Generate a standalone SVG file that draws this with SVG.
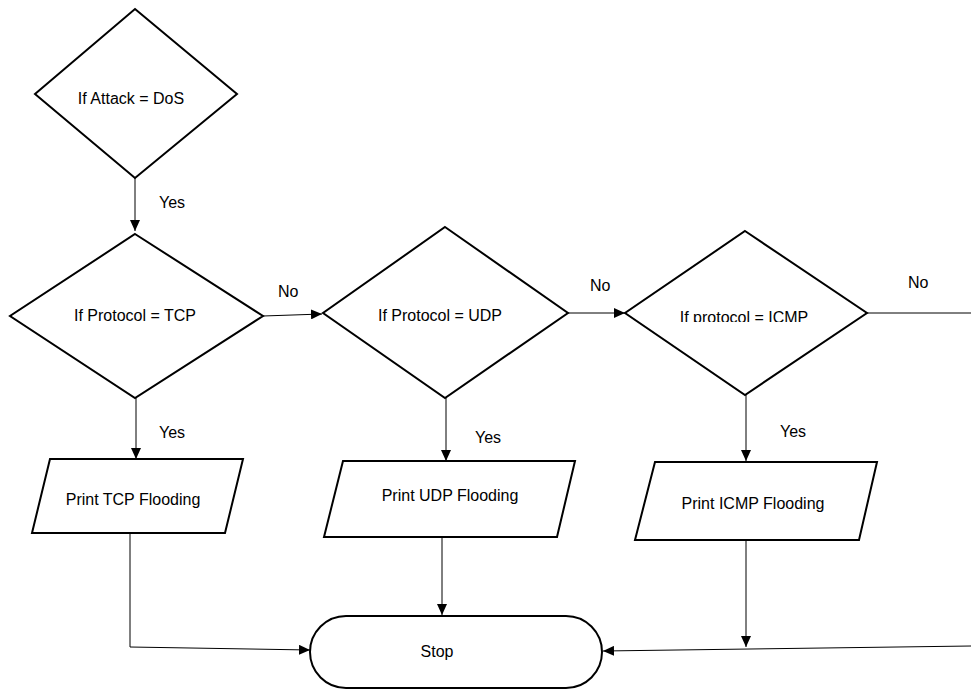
<svg xmlns="http://www.w3.org/2000/svg" width="971" height="690" viewBox="0 0 971 690">
  <defs>
    <style>
      .shape { fill: #ffffff; stroke: #000000; stroke-width: 2; stroke-linejoin: miter; }
      .link { fill: none; stroke: #000000; stroke-width: 1; }
      .label { font-family: "Liberation Sans", Arial, sans-serif; font-size: 16px; fill: #000000; }
      .mid { text-anchor: middle; }
    </style>
    <marker id="arrow" markerUnits="userSpaceOnUse" markerWidth="12" markerHeight="10" refX="11" refY="5" orient="auto">
      <path d="M0,0 L11,5 L0,10 Z" fill="#000000"/>
    </marker>
    <clipPath id="icmpClip">
      <rect x="640" y="290" width="200" height="32"/>
    </clipPath>
  </defs>

  <rect width="971" height="690" fill="#ffffff"/>

  <!-- connectors -->
  <g id="connectors">
    <path class="link" d="M135,178 L135,231" marker-end="url(#arrow)"/>
    <path class="link" d="M263,316 L322,314" marker-end="url(#arrow)"/>
    <path class="link" d="M568,313 L625,313" marker-end="url(#arrow)"/>
    <path class="link" d="M867,313 L971,313"/>
    <path class="link" d="M136,398 L136,459" marker-end="url(#arrow)"/>
    <path class="link" d="M446,398 L446,461" marker-end="url(#arrow)"/>
    <path class="link" d="M746,395 L746,461" marker-end="url(#arrow)"/>
    <path class="link" d="M130,533 L130,647 L310,650" marker-end="url(#arrow)"/>
    <path class="link" d="M442,537 L442,615" marker-end="url(#arrow)"/>
    <path class="link" d="M746,540 L746,647" marker-end="url(#arrow)"/>
    <path class="link" d="M971,646 L603,651" marker-end="url(#arrow)"/>

    <text class="label" x="159" y="208">Yes</text>
    <text class="label" x="278" y="297">No</text>
    <text class="label" x="590" y="291">No</text>
    <text class="label" x="908" y="288">No</text>
    <text class="label" x="159" y="438">Yes</text>
    <text class="label" x="475" y="443">Yes</text>
    <text class="label" x="780" y="437">Yes</text>
  </g>

  <!-- decision: attack type -->
  <g id="decision-dos">
    <polygon class="shape" points="135,9 237,94 135,178 35,94"/>
    <text class="label mid" x="131" y="104">If Attack = DoS</text>
  </g>

  <!-- decision: TCP -->
  <g id="decision-tcp">
    <polygon class="shape" points="135,234 263,316 135,398 10,316"/>
    <text class="label mid" x="135" y="321">If Protocol = TCP</text>
  </g>

  <!-- decision: UDP -->
  <g id="decision-udp">
    <polygon class="shape" points="445,227 568,313 445,398 323,313"/>
    <text class="label mid" x="440" y="321">If Protocol = UDP</text>
  </g>

  <!-- decision: ICMP (label box cuts off the descenders) -->
  <g id="decision-icmp">
    <polygon class="shape" points="745,231 867,313 745,395 625,313"/>
    <text class="label mid" x="744" y="323" clip-path="url(#icmpClip)">If protocol = ICMP</text>
  </g>

  <!-- outputs -->
  <g id="print-tcp">
    <polygon class="shape" points="50,459 243,459 225,533 32,533"/>
    <text class="label mid" x="133" y="505">Print TCP Flooding</text>
  </g>

  <g id="print-udp">
    <polygon class="shape" points="343,461 575,461 557,537 324,537"/>
    <text class="label mid" x="450" y="501">Print UDP Flooding</text>
  </g>

  <g id="print-icmp">
    <polygon class="shape" points="655,462 877,462 859,540 635,540"/>
    <text class="label mid" x="753" y="509">Print ICMP Flooding</text>
  </g>

  <!-- terminal -->
  <g id="stop">
    <rect class="shape" x="310" y="616" width="292" height="72" rx="36" ry="36"/>
    <text class="label mid" x="437" y="657">Stop</text>
  </g>
</svg>
